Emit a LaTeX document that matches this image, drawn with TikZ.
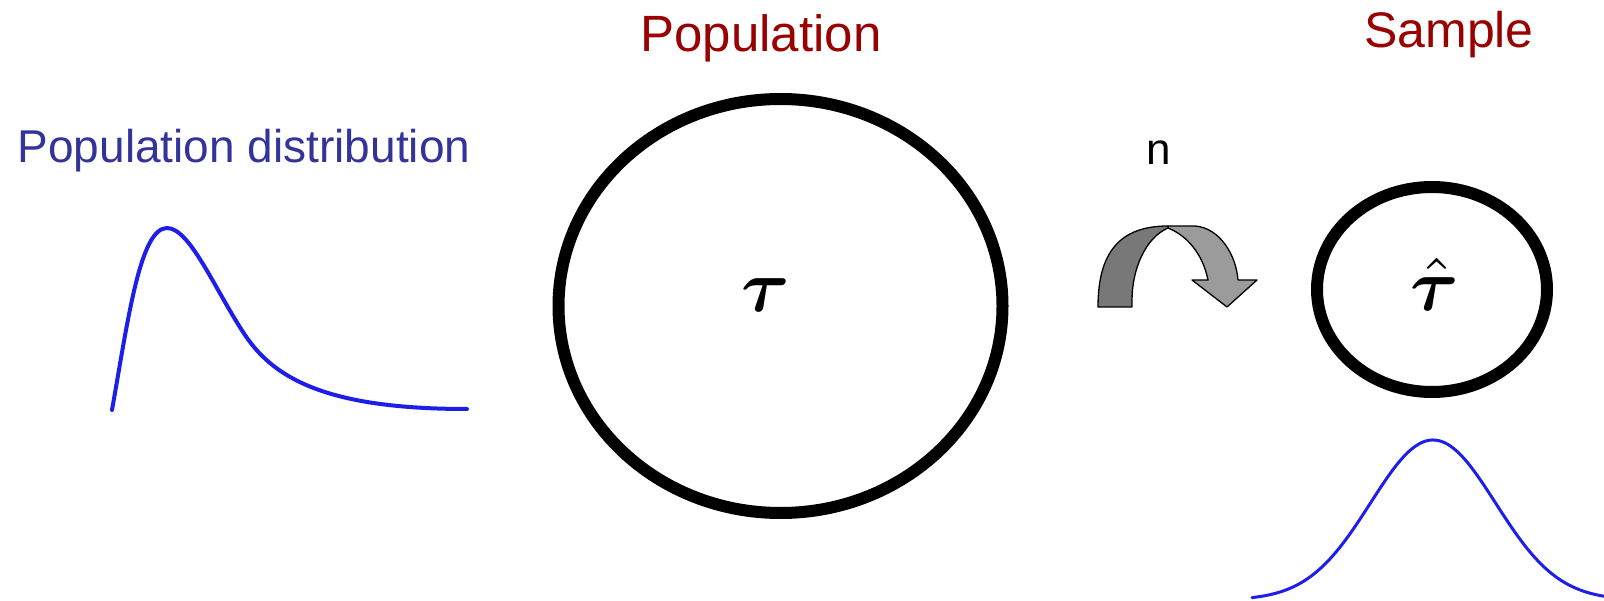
\documentclass[tikz,border=0pt]{standalone}
\usepackage{amsmath}
\usepackage{bm}
\usepackage{graphicx}
\usepackage{fontspec}
\setmainfont{Liberation Sans}
\definecolor{titlered}{RGB}{153,0,0}
\definecolor{labelblue}{RGB}{51,51,153}
\definecolor{curveblue}{RGB}{30,30,235}
\definecolor{darkband}{RGB}{120,120,120}
\definecolor{lightband}{RGB}{155,155,155}
\begin{document}
\begin{tikzpicture}[x=1pt,y=-1pt,
  lbl/.style={anchor=base,inner sep=0pt,outer sep=0pt},
  ring/.style={draw=black,line width=12pt},
  dist/.style={draw=curveblue,line cap=round,line join=round},
  band/.style={draw=black,line width=1.3pt,line join=round}]
\useasboundingbox (0,0) rectangle (1604,601);
% titles
\node[lbl,text=titlered,font=\fontsize{51}{60}\selectfont] (poptitle) at (761,52) {Population};
\node[lbl,text=titlered,font=\fontsize{50}{60}\selectfont] (samptitle) at (1449,48) {Sample};
\node[lbl,text=labelblue,font=\fontsize{46}{55}\selectfont] (distlabel) at (244,163) {Population distribution};
\node[lbl,text=black,font=\fontsize{44}{52}\selectfont] (nlabel) at (1159,165) {n};
% ellipses
\draw[ring] (780.5,306) ellipse [x radius=222, y radius=207];
\draw[ring] (1432,289.5) ellipse [x radius=115, y radius=102.5];
\node[inner sep=0pt] (tau) at (766,295) {\scalebox{7.4}{$\bm{\tau}$}};
\node[inner sep=0pt,anchor=base] (tauhat) at (1435,311) {\scalebox{7.4}{$\hat{\bm{\tau}}$}};
% curved arrow
\filldraw[band,fill=lightband] (1168,226) -- (1195,226)
  .. controls (1220,228) and (1236,255) .. (1238,280)
  -- (1257,280) -- (1227,307) -- (1192,280) -- (1208,280)
  .. controls (1203,255) and (1188,236) .. (1168,228) -- cycle;
\filldraw[band,fill=darkband] (1098,307)
  .. controls (1098,252) and (1120,226) .. (1168,226)
  -- (1168,228)
  .. controls (1145,238) and (1132,270) .. (1132,300)
  -- (1132,307) -- cycle;
% skewed population distribution
\draw[dist,line width=4pt] (112,410)
  .. controls (128,320) and (140,228) .. (167,228)
  .. controls (190,228) and (215,290) .. (245,335)
  .. controls (275,380) and (330,409) .. (467,409);
% sampling distribution
\draw[dist,line width=3pt] plot[domain=1252:1604,samples=120]
  (\x,{600-160*exp(-((\x-1433)/62.5)^2/2)});
\end{tikzpicture}
\end{document}
